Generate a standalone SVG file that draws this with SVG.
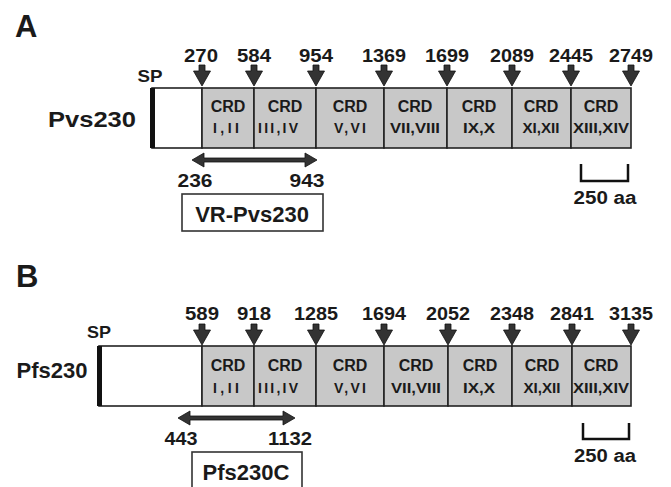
<svg xmlns="http://www.w3.org/2000/svg" xmlns:xlink="http://www.w3.org/1999/xlink" width="671" height="487" viewBox="0 0 671 487">
<style>
text{font-family:"Liberation Sans",Arial,sans-serif;font-weight:bold;fill:#1a1a1a;text-anchor:middle}
.num{font-size:18px}
.crd{font-size:16px}
.rom{font-size:14px}
.big{font-size:22px}
.pan{font-size:31px;text-anchor:start}
.sp{font-size:17px}
.white{fill:#ffffff;stroke:#222;stroke-width:1.6}
.seg{fill:#c8c8c8;stroke:#222;stroke-width:1.6}
.bar{fill:#111}
.arr{fill:#333;stroke:#111;stroke-width:0.8}
.scale{fill:none;stroke:#111;stroke-width:2.5}
.lbl{fill:#fff;stroke:#333;stroke-width:1.6}
</style>
<defs>
<path id="dn" d="M-3,-21 H3 V-15 H8.5 L0,0 L-8.5,-15 H-3 Z"/>
</defs>

<!-- Panel A -->
<text class="pan" x="15" y="37">A</text>
<g id="pvs230">
  <text class="big" x="92" y="127" textLength="88" lengthAdjust="spacingAndGlyphs">Pvs230</text>
  <text class="sp" x="150" y="82" textLength="25" lengthAdjust="spacingAndGlyphs">SP</text>
  <rect class="white" x="152" y="88" width="50" height="60"/>
  <rect class="bar" x="150" y="88" width="5" height="60"/>
</g>
<g id="a-crd1"><rect class="seg" x="202" y="88" width="52" height="60"/><text class="crd" x="228" y="112">CRD</text><text class="rom" x="226" y="133" textLength="26" lengthAdjust="spacing">I,II</text></g>
<g id="a-crd2"><rect class="seg" x="254" y="88" width="62" height="60"/><text class="crd" x="285" y="112">CRD</text><text class="rom" x="278" y="133" textLength="40" lengthAdjust="spacing">III,IV</text></g>
<g id="a-crd3"><rect class="seg" x="316" y="88" width="68" height="60"/><text class="crd" x="350" y="112">CRD</text><text class="rom" x="350" y="133" textLength="32" lengthAdjust="spacing">V,VI</text></g>
<g id="a-crd4"><rect class="seg" x="384" y="88" width="63" height="60"/><text class="crd" x="415" y="112">CRD</text><text class="rom" x="415" y="133" textLength="50" lengthAdjust="spacingAndGlyphs">VII,VIII</text></g>
<g id="a-crd5"><rect class="seg" x="447" y="88" width="65" height="60"/><text class="crd" x="479" y="112">CRD</text><text class="rom" x="479" y="133" textLength="32" lengthAdjust="spacingAndGlyphs">IX,X</text></g>
<g id="a-crd6"><rect class="seg" x="512" y="88" width="59" height="60"/><text class="crd" x="541" y="112">CRD</text><text class="rom" x="541" y="133" textLength="37" lengthAdjust="spacingAndGlyphs">XI,XII</text></g>
<g id="a-crd7"><rect class="seg" x="571" y="88" width="60" height="60"/><text class="crd" x="601" y="112">CRD</text><text class="rom" x="601" y="133" textLength="56" lengthAdjust="spacingAndGlyphs">XIII,XIV</text></g>

<g id="a-labels">
  <text class="num" x="201" y="62" textLength="34" lengthAdjust="spacingAndGlyphs">270</text>
  <text class="num" x="254" y="62" textLength="34" lengthAdjust="spacingAndGlyphs">584</text>
  <text class="num" x="316" y="62" textLength="34" lengthAdjust="spacingAndGlyphs">954</text>
  <text class="num" x="384" y="62" textLength="44" lengthAdjust="spacingAndGlyphs">1369</text>
  <text class="num" x="447" y="62" textLength="44" lengthAdjust="spacingAndGlyphs">1699</text>
  <text class="num" x="512" y="62" textLength="44" lengthAdjust="spacingAndGlyphs">2089</text>
  <text class="num" x="571" y="62" textLength="44" lengthAdjust="spacingAndGlyphs">2445</text>
  <text class="num" x="631" y="62" textLength="44" lengthAdjust="spacingAndGlyphs">2749</text>
  <text class="num" x="195" y="187" textLength="35" lengthAdjust="spacingAndGlyphs">236</text>
  <text class="num" x="307" y="187" textLength="35" lengthAdjust="spacingAndGlyphs">943</text>
</g>
<g id="vr-pvs230">
  <rect class="lbl" x="182" y="194" width="141" height="37"/>
  <text class="big" x="252" y="222">VR-Pvs230</text>
</g>
<g id="a-scale">
  <path class="scale" d="M581,164 V181 H628 V164"/>
  <text class="num" x="605" y="204" textLength="63" lengthAdjust="spacingAndGlyphs">250 aa</text>
</g>

<!-- Panel B -->
<text class="pan" x="16" y="287">B</text>
<g id="pfs230">
  <text class="big" x="52" y="378" textLength="71" lengthAdjust="spacingAndGlyphs">Pfs230</text>
  <text class="sp" x="99" y="338" textLength="24" lengthAdjust="spacingAndGlyphs">SP</text>
  <rect class="white" x="99" y="346" width="103" height="60"/>
  <rect class="bar" x="97" y="346" width="5" height="60"/>
</g>
<g id="b-crd1"><rect class="seg" x="202" y="346" width="52" height="60"/><text class="crd" x="228" y="371">CRD</text><text class="rom" x="226" y="393" textLength="26" lengthAdjust="spacing">I,II</text></g>
<g id="b-crd2"><rect class="seg" x="254" y="346" width="62" height="60"/><text class="crd" x="285" y="371">CRD</text><text class="rom" x="278" y="393" textLength="40" lengthAdjust="spacing">III,IV</text></g>
<g id="b-crd3"><rect class="seg" x="316" y="346" width="68" height="60"/><text class="crd" x="350" y="371">CRD</text><text class="rom" x="350" y="393" textLength="32" lengthAdjust="spacing">V,VI</text></g>
<g id="b-crd4"><rect class="seg" x="384" y="346" width="64" height="60"/><text class="crd" x="416" y="371">CRD</text><text class="rom" x="416" y="393" textLength="50" lengthAdjust="spacingAndGlyphs">VII,VIII</text></g>
<g id="b-crd5"><rect class="seg" x="448" y="346" width="64" height="60"/><text class="crd" x="480" y="371">CRD</text><text class="rom" x="479" y="393" textLength="32" lengthAdjust="spacingAndGlyphs">IX,X</text></g>
<g id="b-crd6"><rect class="seg" x="512" y="346" width="60" height="60"/><text class="crd" x="542" y="371">CRD</text><text class="rom" x="542" y="393" textLength="37" lengthAdjust="spacingAndGlyphs">XI,XII</text></g>
<g id="b-crd7"><rect class="seg" x="572" y="346" width="59" height="60"/><text class="crd" x="601" y="371">CRD</text><text class="rom" x="601" y="393" textLength="56" lengthAdjust="spacingAndGlyphs">XIII,XIV</text></g>

<g id="b-labels">
  <text class="num" x="202" y="320" textLength="34" lengthAdjust="spacingAndGlyphs">589</text>
  <text class="num" x="254" y="320" textLength="34" lengthAdjust="spacingAndGlyphs">918</text>
  <text class="num" x="316" y="320" textLength="44" lengthAdjust="spacingAndGlyphs">1285</text>
  <text class="num" x="384" y="320" textLength="44" lengthAdjust="spacingAndGlyphs">1694</text>
  <text class="num" x="448" y="320" textLength="44" lengthAdjust="spacingAndGlyphs">2052</text>
  <text class="num" x="512" y="320" textLength="44" lengthAdjust="spacingAndGlyphs">2348</text>
  <text class="num" x="572" y="320" textLength="44" lengthAdjust="spacingAndGlyphs">2841</text>
  <text class="num" x="631" y="320" textLength="44" lengthAdjust="spacingAndGlyphs">3135</text>
  <text class="num" x="181" y="445" textLength="33" lengthAdjust="spacingAndGlyphs">443</text>
  <text class="num" x="290" y="445" textLength="44" lengthAdjust="spacingAndGlyphs">1132</text>
</g>
<g id="pfs230c">
  <rect class="lbl" x="192" y="452" width="110" height="40"/>
  <text class="big" x="246" y="480">Pfs230C</text>
</g>
<g id="b-scale">
  <path class="scale" d="M583,423 V439 H629 V423"/>
  <text class="num" x="605" y="462" textLength="62" lengthAdjust="spacingAndGlyphs">250 aa</text>
</g>

<!-- connectors -->
<g id="connectors">
  <use href="#dn" xlink:href="#dn" class="arr" x="202" y="86"/>
  <use href="#dn" xlink:href="#dn" class="arr" x="254" y="86"/>
  <use href="#dn" xlink:href="#dn" class="arr" x="316" y="86"/>
  <use href="#dn" xlink:href="#dn" class="arr" x="384" y="86"/>
  <use href="#dn" xlink:href="#dn" class="arr" x="447" y="86"/>
  <use href="#dn" xlink:href="#dn" class="arr" x="512" y="86"/>
  <use href="#dn" xlink:href="#dn" class="arr" x="571" y="86"/>
  <use href="#dn" xlink:href="#dn" class="arr" x="631" y="86"/>
  <use href="#dn" xlink:href="#dn" class="arr" x="202" y="345"/>
  <use href="#dn" xlink:href="#dn" class="arr" x="254" y="345"/>
  <use href="#dn" xlink:href="#dn" class="arr" x="316" y="345"/>
  <use href="#dn" xlink:href="#dn" class="arr" x="384" y="345"/>
  <use href="#dn" xlink:href="#dn" class="arr" x="448" y="345"/>
  <use href="#dn" xlink:href="#dn" class="arr" x="512" y="345"/>
  <use href="#dn" xlink:href="#dn" class="arr" x="572" y="345"/>
  <use href="#dn" xlink:href="#dn" class="arr" x="631" y="345"/>
  <path class="arr" d="M192,160 L204,153 V158 H305 V153 L317,160 L305,167 V162 H204 V167 Z"/>
  <path class="arr" d="M178,418 L190,411 V416 H283 V411 L295,418 L283,425 V420 H190 V425 Z"/>
</g>
</svg>
